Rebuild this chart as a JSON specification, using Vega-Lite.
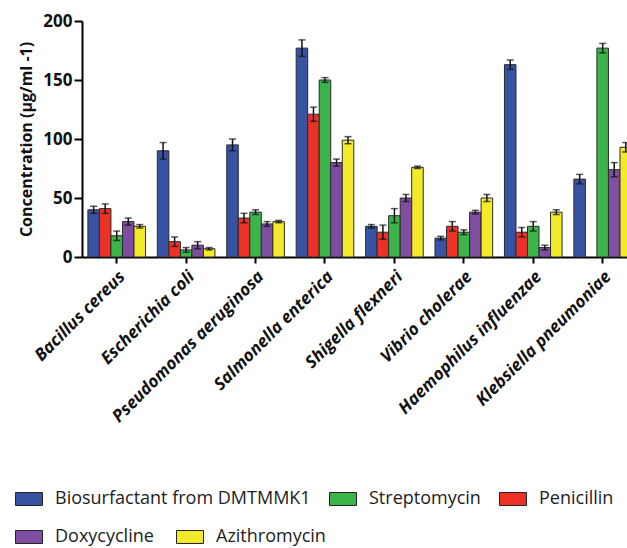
{
  "$schema": "https://vega.github.io/schema/vega-lite/v6.json",
  "width": 545,
  "height": 236,
  "autosize": {"type": "none"},
  "padding": {"left": 82, "top": 21, "right": 0, "bottom": 291},
  "config": {"view": {"stroke": null}, "font": "Open Sans"},
  "data": {
    "values": [
      {"organism": "Bacillus cereus", "drug": "Biosurfactant from DMTMMK1", "value": 40, "lo": 37, "hi": 43},
      {"organism": "Bacillus cereus", "drug": "Penicillin", "value": 41, "lo": 37, "hi": 45},
      {"organism": "Bacillus cereus", "drug": "Streptomycin", "value": 18, "lo": 14, "hi": 22},
      {"organism": "Bacillus cereus", "drug": "Doxycycline", "value": 30, "lo": 27, "hi": 33},
      {"organism": "Bacillus cereus", "drug": "Azithromycin", "value": 26, "lo": 24.5, "hi": 27.5},
      {"organism": "Escherichia coli", "drug": "Biosurfactant from DMTMMK1", "value": 90, "lo": 83, "hi": 97},
      {"organism": "Escherichia coli", "drug": "Penicillin", "value": 13, "lo": 9, "hi": 17},
      {"organism": "Escherichia coli", "drug": "Streptomycin", "value": 6, "lo": 4, "hi": 8},
      {"organism": "Escherichia coli", "drug": "Doxycycline", "value": 10, "lo": 7, "hi": 13},
      {"organism": "Escherichia coli", "drug": "Azithromycin", "value": 7, "lo": 6, "hi": 8},
      {"organism": "Pseudomonas aeruginosa", "drug": "Biosurfactant from DMTMMK1", "value": 95, "lo": 90, "hi": 100},
      {"organism": "Pseudomonas aeruginosa", "drug": "Penicillin", "value": 33, "lo": 29, "hi": 37},
      {"organism": "Pseudomonas aeruginosa", "drug": "Streptomycin", "value": 38, "lo": 36, "hi": 40},
      {"organism": "Pseudomonas aeruginosa", "drug": "Doxycycline", "value": 28, "lo": 26, "hi": 30},
      {"organism": "Pseudomonas aeruginosa", "drug": "Azithromycin", "value": 30, "lo": 29, "hi": 31},
      {"organism": "Salmonella enterica", "drug": "Biosurfactant from DMTMMK1", "value": 177, "lo": 170, "hi": 184},
      {"organism": "Salmonella enterica", "drug": "Penicillin", "value": 121, "lo": 115, "hi": 127},
      {"organism": "Salmonella enterica", "drug": "Streptomycin", "value": 150, "lo": 148, "hi": 152},
      {"organism": "Salmonella enterica", "drug": "Doxycycline", "value": 80, "lo": 77, "hi": 83},
      {"organism": "Salmonella enterica", "drug": "Azithromycin", "value": 99, "lo": 96, "hi": 102},
      {"organism": "Shigella flexneri", "drug": "Biosurfactant from DMTMMK1", "value": 26, "lo": 24.5, "hi": 27.5},
      {"organism": "Shigella flexneri", "drug": "Penicillin", "value": 21, "lo": 15, "hi": 27},
      {"organism": "Shigella flexneri", "drug": "Streptomycin", "value": 35, "lo": 29, "hi": 41},
      {"organism": "Shigella flexneri", "drug": "Doxycycline", "value": 50, "lo": 47, "hi": 53},
      {"organism": "Shigella flexneri", "drug": "Azithromycin", "value": 76, "lo": 75, "hi": 77},
      {"organism": "Vibrio cholerae", "drug": "Biosurfactant from DMTMMK1", "value": 16, "lo": 14.5, "hi": 17.5},
      {"organism": "Vibrio cholerae", "drug": "Penicillin", "value": 26, "lo": 22, "hi": 30},
      {"organism": "Vibrio cholerae", "drug": "Streptomycin", "value": 21, "lo": 19, "hi": 23},
      {"organism": "Vibrio cholerae", "drug": "Doxycycline", "value": 38, "lo": 36.5, "hi": 39.5},
      {"organism": "Vibrio cholerae", "drug": "Azithromycin", "value": 50, "lo": 47, "hi": 53},
      {"organism": "Haemophilus influenzae", "drug": "Biosurfactant from DMTMMK1", "value": 163, "lo": 159, "hi": 167},
      {"organism": "Haemophilus influenzae", "drug": "Penicillin", "value": 21, "lo": 17, "hi": 25},
      {"organism": "Haemophilus influenzae", "drug": "Streptomycin", "value": 26, "lo": 22, "hi": 30},
      {"organism": "Haemophilus influenzae", "drug": "Doxycycline", "value": 8, "lo": 6, "hi": 10},
      {"organism": "Haemophilus influenzae", "drug": "Azithromycin", "value": 38, "lo": 36, "hi": 40},
      {"organism": "Klebsiella pneumoniae", "drug": "Biosurfactant from DMTMMK1", "value": 66, "lo": 62, "hi": 70},
      {"organism": "Klebsiella pneumoniae", "drug": "Streptomycin", "value": 177, "lo": 173, "hi": 181},
      {"organism": "Klebsiella pneumoniae", "drug": "Doxycycline", "value": 74, "lo": 68, "hi": 80},
      {"organism": "Klebsiella pneumoniae", "drug": "Azithromycin", "value": 93, "lo": 89, "hi": 97}
    ]
  },
  "encoding": {
    "x": {
      "field": "organism",
      "type": "nominal",
      "sort": ["Bacillus cereus", "Escherichia coli", "Pseudomonas aeruginosa", "Salmonella enterica", "Shigella flexneri", "Vibrio cholerae", "Haemophilus influenzae", "Klebsiella pneumoniae"],
      "scale": {"range": [0, 555.4], "paddingInner": 0.17, "paddingOuter": 0.085},
      "axis": {
        "title": null,
        "labelAngle": -45,
        "labelFont": "Open Sans",
        "labelFontSize": 17,
        "labelFontWeight": "bold",
        "labelFontStyle": "italic",
        "labelColor": "#111111",
        "labelPadding": 5,
        "labelLimit": 400,
        "tickSize": 6,
        "tickWidth": 2,
        "tickColor": "#000000",
        "domainWidth": 2,
        "domainColor": "#000000",
        "grid": false
      }
    },
    "xOffset": {
      "field": "drug",
      "type": "nominal",
      "scale": {"domain": ["Biosurfactant from DMTMMK1", "Penicillin", "Streptomycin", "Doxycycline", "Azithromycin"], "paddingInner": 0, "paddingOuter": 0}
    },
    "y": {
      "field": "value",
      "type": "quantitative",
      "scale": {"domain": [0, 200], "nice": false},
      "axis": {
        "values": [0, 50, 100, 150, 200],
        "title": "Concentration (µg/ml -1)",
        "titleFont": "Open Sans",
        "titleFontSize": 16,
        "titleFontWeight": "bold",
        "titleColor": "#111111",
        "titlePadding": 8,
        "labelFont": "Open Sans",
        "labelFontSize": 17,
        "labelFontWeight": "bold",
        "labelColor": "#111111",
        "labelPadding": 2,
        "tickSize": 8,
        "tickWidth": 2,
        "tickColor": "#000000",
        "domainWidth": 2,
        "domainColor": "#000000",
        "grid": false
      }
    }
  },
  "layer": [
    {
      "mark": {"type": "bar", "stroke": "#2a2a2a", "strokeWidth": 1},
      "encoding": {
        "color": {
          "field": "drug",
          "type": "nominal",
          "scale": {
            "domain": ["Biosurfactant from DMTMMK1", "Streptomycin", "Penicillin", "Doxycycline", "Azithromycin"],
            "range": ["#3953a4", "#3bb54a", "#ee3127", "#7f4ea0", "#f3ea2a"]
          },
          "legend": {
            "title": null,
            "orient": "none",
            "legendX": -67,
            "legendY": 464,
            "direction": "horizontal",
            "values": ["Biosurfactant from DMTMMK1", "Streptomycin", "Penicillin"],
            "symbolType": "M-1,-0.48H1V0.48H-1Z",
            "symbolSize": 729,
            "symbolStrokeColor": "#222222",
            "symbolStrokeWidth": 1,
            "symbolOpacity": 1,
            "labelFont": "Open Sans",
            "labelFontSize": 18,
            "labelColor": "#222222",
            "labelOffset": 12,
            "labelLimit": 400,
            "columnPadding": 16
          }
        }
      }
    },
    {
      "mark": {"type": "bar", "opacity": 0},
      "encoding": {
        "color": {
          "field": "drug",
          "type": "nominal",
          "scale": {
            "domain": ["Biosurfactant from DMTMMK1", "Streptomycin", "Penicillin", "Doxycycline", "Azithromycin"],
            "range": ["#3953a4", "#3bb54a", "#ee3127", "#7f4ea0", "#f3ea2a"]
          },
          "legend": {
            "title": null,
            "orient": "none",
            "legendX": -67,
            "legendY": 502,
            "direction": "horizontal",
            "values": ["Doxycycline", "Azithromycin"],
            "symbolType": "M-1,-0.48H1V0.48H-1Z",
            "symbolSize": 729,
            "symbolStrokeColor": "#222222",
            "symbolStrokeWidth": 1,
            "symbolOpacity": 1,
            "labelFont": "Open Sans",
            "labelFontSize": 18,
            "labelColor": "#222222",
            "labelOffset": 12,
            "labelLimit": 400,
            "columnPadding": 20
          }
        }
      }
    },
    {
      "mark": {"type": "rule", "color": "#111111", "strokeWidth": 1.5},
      "encoding": {
        "y": {"field": "lo", "type": "quantitative"},
        "y2": {"field": "hi"}
      }
    },
    {
      "mark": {"type": "tick", "color": "#111111", "size": 7, "thickness": 1.5},
      "encoding": {"y": {"field": "lo", "type": "quantitative"}}
    },
    {
      "mark": {"type": "tick", "color": "#111111", "size": 7, "thickness": 1.5},
      "encoding": {"y": {"field": "hi", "type": "quantitative"}}
    }
  ],
  "resolve": {"scale": {"color": "independent"}, "legend": {"color": "independent"}}
}
